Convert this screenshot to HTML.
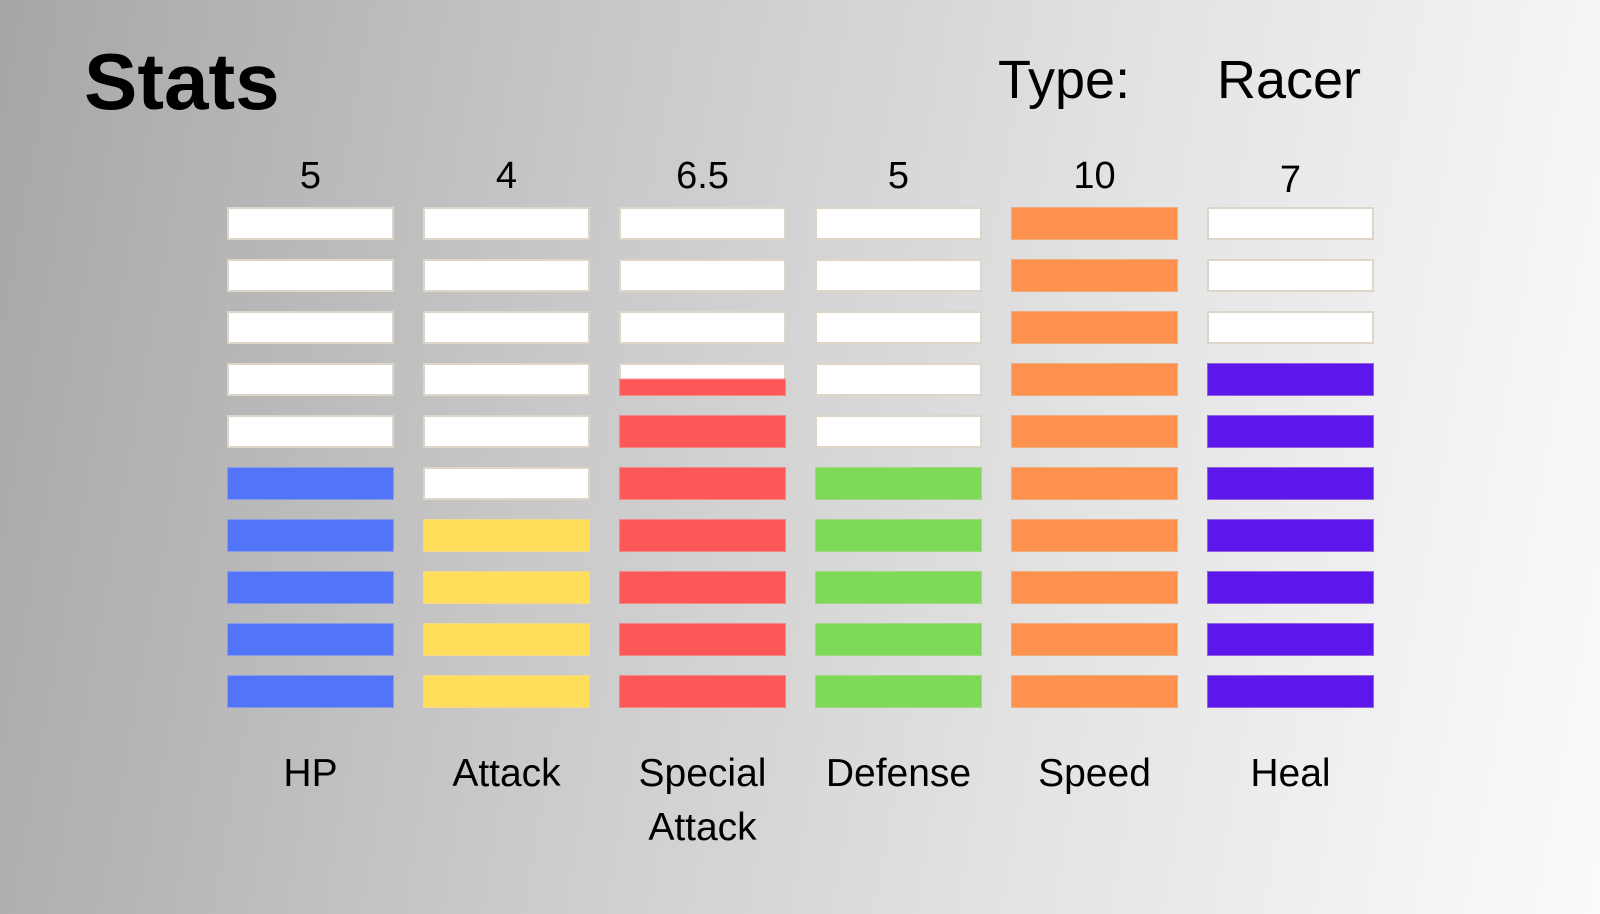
<!DOCTYPE html>
<html><head><meta charset="utf-8"><style>
html,body{margin:0;padding:0}
body{width:1600px;height:914px;overflow:hidden;background:linear-gradient(100deg,#a6a6a6 0%,#c8c8c8 35%,#e2e2e2 65%,#fbfbfb 100%);font-family:"Liberation Sans",sans-serif;position:relative}
.t{position:absolute;color:#000;white-space:nowrap}
</style></head><body>
<div class="t" style="left:84px;top:36px;font-size:80px;font-weight:bold">Stats</div>
<div class="t" style="left:998px;top:49px;font-size:54px">Type:</div>
<div class="t" style="left:1217px;top:49px;font-size:54px">Racer</div>
<svg id="chart" width="1600" height="914" style="position:absolute;left:0;top:0"></svg>
<script>
const categories=["HP","Attack","Special Attack","Defense","Speed","Heal"];
const values=[5,4,6.5,5,10,7];
const valueLabels=["5","4","6.5","5","10","7"];
const colors=["#5274f8","#fede5a","#fe5757","#7ed957","#fe914d","#5e17eb"];
const maxVal=10;
const svg=document.getElementById('chart');
const NS="http://www.w3.org/2000/svg";
const x0=228,colStep=196,barW=165,y0=208,rowStep=52,barH=31;
function xCol(i){return x0+i*colStep;}
function yRow(k){return y0+(maxVal-1-k)*rowStep;}
categories.forEach((c,i)=>{
  const x=xCol(i);
  for(let k=0;k<maxVal;k++){
    const y=yRow(k);
    const bg=document.createElementNS(NS,'rect');
    
    
    bg.setAttribute('x',x);bg.setAttribute('y',y);bg.setAttribute('width',barW);bg.setAttribute('height',barH);
    bg.setAttribute('fill','#fff');bg.setAttribute('stroke','#ddd5c8');bg.setAttribute('stroke-width','2');
    svg.appendChild(bg);
    const f=Math.max(0,Math.min(1,values[i]-k));
    if(f>0){
      const r=document.createElementNS(NS,'rect');
      
      
      const h=barH*f;
      r.setAttribute('x',x);r.setAttribute('y',y+barH-h);r.setAttribute('width',barW);r.setAttribute('height',h);
      r.setAttribute('fill',colors[i]);r.setAttribute('stroke',colors[i]);r.setAttribute('stroke-opacity','0.6');r.setAttribute('stroke-width','2');
      svg.appendChild(r);
    }
  }
  const v=document.createElementNS(NS,'text');
  
  
  v.setAttribute('x',x+barW/2);v.setAttribute('y',valueLabels[i]==="7"?192:188);v.setAttribute('text-anchor','middle');
  v.setAttribute('font-size','38');v.setAttribute('font-family','Liberation Sans, sans-serif');
  v.textContent=valueLabels[i];svg.appendChild(v);
  const words=c.split(' ');
  words.forEach((w,j)=>{
    const t=document.createElementNS(NS,'text');
    
    
    t.setAttribute('x',x+barW/2);t.setAttribute('y',786+j*54);t.setAttribute('text-anchor','middle');
    t.setAttribute('font-size','39');t.setAttribute('font-family','Liberation Sans, sans-serif');
    t.textContent=w;svg.appendChild(t);
  });
});
</script>
</body></html>
